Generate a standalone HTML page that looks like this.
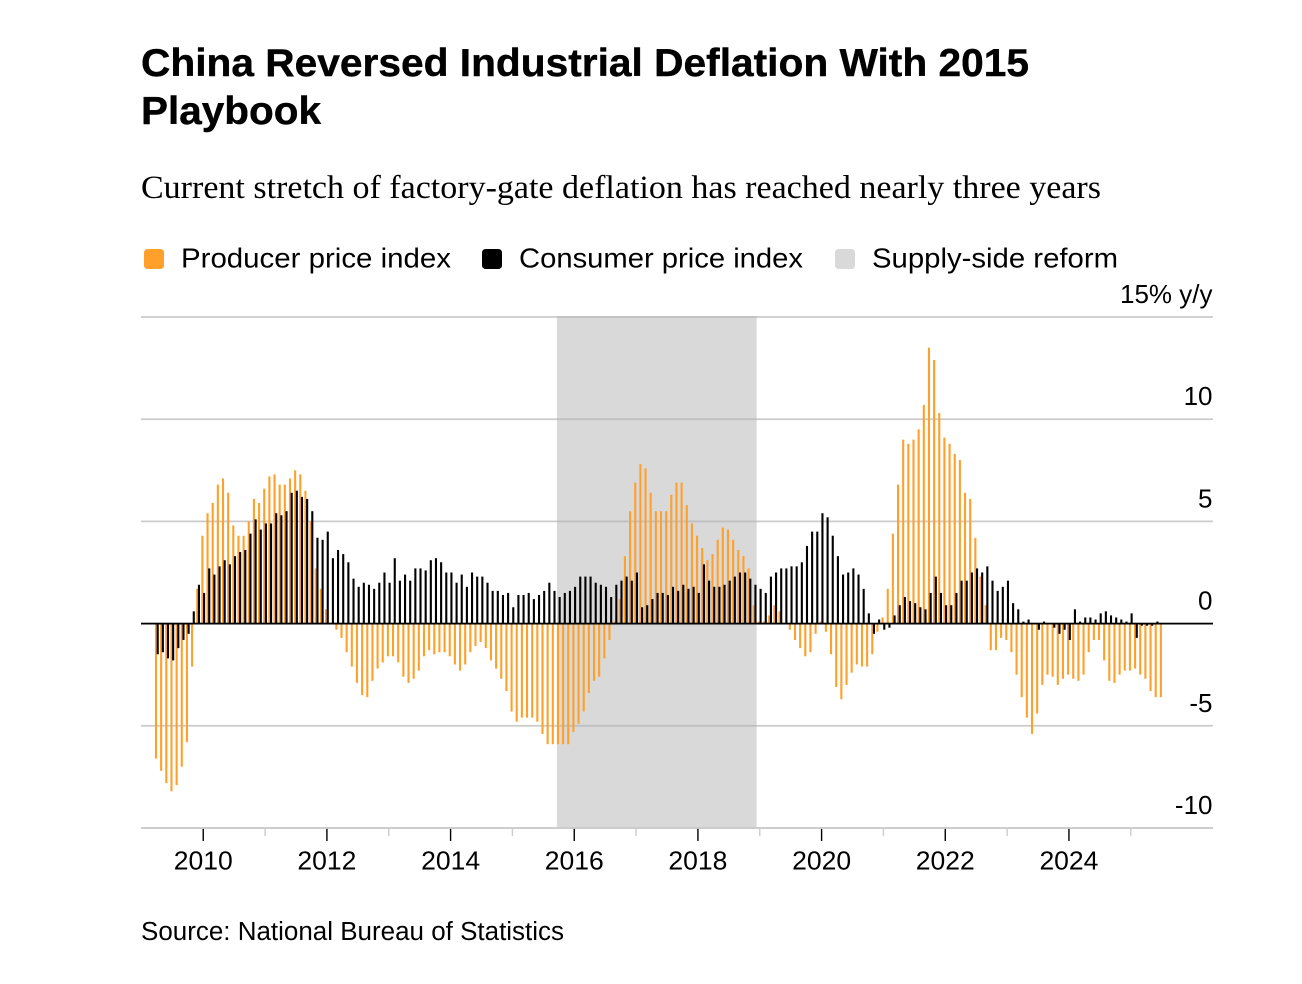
<!DOCTYPE html>
<html lang="en">
<head>
<meta charset="utf-8">
<title>China Reversed Industrial Deflation With 2015 Playbook</title>
<style>
html,body{margin:0;padding:0;background:#fff;width:1302px;height:984px;overflow:hidden}
svg{display:block}
text{font-family:"Liberation Sans",Arial,sans-serif;fill:#000}
.serif{font-family:"Liberation Serif","Times New Roman",serif}
</style>
</head>
<body>
<svg id="chart" xmlns="http://www.w3.org/2000/svg" width="1302" height="984" viewBox="0 0 1302 984">
  <text x="141" y="76" font-size="39" font-weight="700" textLength="888" lengthAdjust="spacingAndGlyphs" stroke="#000" stroke-width="0.4">China Reversed Industrial Deflation With 2015</text>
  <text x="141" y="124" font-size="39" font-weight="700" textLength="180" lengthAdjust="spacingAndGlyphs" stroke="#000" stroke-width="0.4">Playbook</text>
  <text class="serif" x="141" y="198" font-size="33" textLength="960" lengthAdjust="spacingAndGlyphs">Current stretch of factory-gate deflation has reached nearly three years</text>

  <g>
    <g>
      <rect x="144" y="249" width="20" height="20" rx="3.5" fill="#ffa02b"/>
      <text x="181" y="267.5" font-size="28" textLength="270" lengthAdjust="spacingAndGlyphs">Producer price index</text>
    </g>
    <g>
      <rect x="482" y="249" width="20" height="20" rx="3.5" fill="#000"/>
      <text x="519" y="267.5" font-size="28" textLength="284" lengthAdjust="spacingAndGlyphs">Consumer price index</text>
    </g>
    <g>
      <rect x="835" y="249" width="20" height="20" rx="3.5" fill="#d9d9d9"/>
      <text x="872" y="267.5" font-size="28" textLength="246" lengthAdjust="spacingAndGlyphs">Supply-side reform</text>
    </g>
  </g>

  <g id="band-layer"></g>
  <g id="grid-layer"></g>
  <g id="x-axis"></g>
  <g id="ppi-layer"></g>
  <g id="cpi-layer"></g>
  <g id="zero-layer"></g>
  <g id="y-labels"></g>

  <text x="141" y="940" font-size="25.5" textLength="423" lengthAdjust="spacingAndGlyphs">Source: National Bureau of Statistics</text>
</svg>
<script>
const firstMonth = [2009, 4];
const ppi = [
  -6.6,-7.2,-7.8,-8.2,-7.9,-7.0,-5.8,-2.1,1.7,
  4.3,5.4,5.9,6.8,7.1,6.4,4.8,4.3,4.3,5.0,6.1,5.9,
  6.6,7.2,7.3,6.8,6.8,7.1,7.5,7.3,6.5,5.0,2.7,1.7,
  0.7,0.0,-0.3,-0.7,-1.4,-2.1,-2.9,-3.5,-3.6,-2.8,-2.2,-1.9,
  -1.6,-1.6,-1.9,-2.6,-2.9,-2.7,-2.3,-1.6,-1.3,-1.5,-1.4,-1.4,
  -1.6,-2.0,-2.3,-2.0,-1.4,-1.1,-0.9,-1.2,-1.8,-2.2,-2.7,-3.3,
  -4.3,-4.8,-4.6,-4.6,-4.6,-4.8,-5.4,-5.9,-5.9,-5.9,-5.9,-5.9,
  -5.3,-4.9,-4.3,-3.4,-2.8,-2.6,-1.7,-0.8,0.1,1.2,3.3,5.5,
  6.9,7.8,7.6,6.4,5.5,5.5,5.5,6.3,6.9,6.9,5.8,4.9,
  4.3,3.7,3.1,3.4,4.1,4.7,4.6,4.1,3.6,3.3,2.7,0.9,
  0.1,0.1,0.4,0.9,0.6,0.0,-0.3,-0.8,-1.2,-1.6,-1.4,-0.5,
  0.1,-0.4,-1.5,-3.1,-3.7,-3.0,-2.4,-2.0,-2.1,-2.1,-1.5,-0.4,
  0.3,1.7,4.4,6.8,9.0,8.8,9.0,9.5,10.7,13.5,12.9,10.3,
  9.1,8.8,8.3,8.0,6.4,6.1,4.2,2.3,0.9,-1.3,-1.3,-0.7,
  -0.8,-1.4,-2.5,-3.6,-4.6,-5.4,-4.4,-3.0,-2.5,-2.6,-3.0,-2.7,
  -2.5,-2.7,-2.8,-2.5,-1.4,-0.8,-0.8,-1.8,-2.8,-2.9,-2.5,-2.3,
  -2.3,-2.2,-2.5,-2.7,-3.3,-3.6,-3.6
];
const cpi = [
  -1.5,-1.4,-1.7,-1.8,-1.2,-0.8,-0.5,0.6,1.9,
  1.5,2.7,2.4,2.8,3.1,2.9,3.3,3.5,3.6,4.4,5.1,4.6,
  4.9,4.9,5.4,5.3,5.5,6.4,6.5,6.2,6.1,5.5,4.2,4.1,
  4.5,3.2,3.6,3.4,3.0,2.2,1.8,2.0,1.9,1.7,2.0,2.5,
  2.0,3.2,2.1,2.4,2.1,2.7,2.7,2.6,3.1,3.2,3.0,2.5,
  2.5,2.0,2.4,1.8,2.5,2.3,2.3,2.0,1.6,1.6,1.4,1.5,
  0.8,1.4,1.4,1.5,1.2,1.4,1.6,2.0,1.6,1.3,1.5,1.6,
  1.8,2.3,2.3,2.3,2.0,1.9,1.8,1.3,1.9,2.1,2.3,2.1,
  2.5,0.8,0.9,1.2,1.5,1.5,1.4,1.8,1.6,1.9,1.7,1.8,
  1.5,2.9,2.1,1.8,1.8,1.9,2.1,2.3,2.5,2.5,2.2,1.9,
  1.7,1.5,2.3,2.5,2.7,2.7,2.8,2.8,3.0,3.8,4.5,4.5,
  5.4,5.2,4.3,3.3,2.4,2.5,2.7,2.4,1.7,0.5,-0.5,0.2,
  -0.3,-0.2,0.4,0.9,1.3,1.1,1.0,0.8,0.7,1.5,2.3,1.5,
  0.9,0.9,1.5,2.1,2.1,2.5,2.7,2.5,2.8,2.1,1.6,1.8,
  2.1,1.0,0.7,0.1,0.2,0.0,-0.3,0.1,0.0,-0.2,-0.5,-0.3,
  -0.8,0.7,0.1,0.3,0.3,0.2,0.5,0.6,0.4,0.3,0.2,0.1,
  0.5,-0.7,-0.1,-0.1,-0.1,0.1,0.0
];
const yTicks = [15, 10, 5, 0, -5, -10];
const yTickLabels = ['15% y/y', '10', '5', '0', '-5', '-10'];
const xTickYears = [2010,2011,2012,2013,2014,2015,2016,2017,2018,2019,2020,2021,2022,2023,2024,2025];
const xLabelYears = [2010,2012,2014,2016,2018,2020,2022,2024];
const reformBand = [2015.72, 2018.95];

const SVG_NS = 'http://www.w3.org/2000/svg';
const PLOT_LEFT = 141, PLOT_RIGHT = 1213;
const PLOT_TOP = 317, PLOT_BOTTOM = 828;

// Axis functions
function xScale(monthsSince2009) { return 141.4 + monthsSince2009 * 5.153; }
function yScale(v) { return PLOT_BOTTOM - (v + 10) * (PLOT_BOTTOM - PLOT_TOP) / 25; }
function monthIndexAt(i) { return (firstMonth[0] - 2009) * 12 + (firstMonth[1] - 1) + i; }

function make(tag, attrs, parent) {
  const el = document.createElementNS(SVG_NS, tag);
  for (const k in attrs) el.setAttribute(k, attrs[k]);
  parent.appendChild(el);
  return el;
}

const GRID_H = 1.8;
const gridLayer = document.getElementById('grid-layer');
yTicks.forEach(function (t) {
  if (t === 0) return;
  const line = make('rect', { x: PLOT_LEFT, y: yScale(t) - GRID_H / 2, width: PLOT_RIGHT - PLOT_LEFT, height: GRID_H, fill: '#cccccc' }, gridLayer);
  
  
});

const bandLayer = document.getElementById('band-layer');
const bandX0 = xScale((reformBand[0] - 2009) * 12);
const bandX1 = xScale((reformBand[1] - 2009) * 12);
const band = make('rect', { x: bandX0, y: PLOT_TOP, width: bandX1 - bandX0, height: PLOT_BOTTOM - PLOT_TOP, fill: '#d9d9d9' }, bandLayer);



// Re-tint gridlines inside the band
yTicks.forEach(function (t) {
  if (t === 0) return;
  const seg = make('rect', { x: bandX0, y: yScale(t) - GRID_H / 2, width: bandX1 - bandX0, height: GRID_H, fill: '#c0c0c0' }, gridLayer);
  
  
});

const BAR_W = 2.1, BAR_OFFSET = 0.85;
function drawBars(values, layerId, color, offset, name) {
  const layer = document.getElementById(layerId);
  values.forEach(function (v, i) {
    const cx = xScale(monthIndexAt(i)) + offset;
    const y0 = yScale(0), y1 = yScale(v);
    const r = make('rect', { x: cx - BAR_W / 2, y: Math.min(y0, y1), width: BAR_W, height: Math.abs(y1 - y0), fill: color }, layer);
    
    
  });
}
drawBars(ppi, 'ppi-layer', '#ffa02b', -BAR_OFFSET, 'ppi');
drawBars(cpi, 'cpi-layer', '#000000', BAR_OFFSET, 'cpi');

const zeroLayer = document.getElementById('zero-layer');
const zero = make('rect', { x: PLOT_LEFT, y: yScale(0) - GRID_H / 2, width: PLOT_RIGHT - PLOT_LEFT, height: GRID_H, fill: '#000' }, zeroLayer);



const yLabels = document.getElementById('y-labels');
yTicks.forEach(function (t, i) {
  const label = make('text', { x: PLOT_RIGHT - 0.5, y: yScale(t) - 14, 'text-anchor': 'end', 'font-size': 26 }, yLabels);
  label.textContent = yTickLabels[i];
  
  
});

const xAxis = document.getElementById('x-axis');
xTickYears.forEach(function (yr) {
  const major = xLabelYears.indexOf(yr) >= 0;
  const x = xScale((yr - 2009) * 12);
  const tick = make('rect', { x: x - 0.7, y: PLOT_BOTTOM, width: 1.4, height: major ? 13 : 8, fill: major ? '#000' : '#cccccc' }, xAxis);
  
  
});
xLabelYears.forEach(function (yr) {
  const label = make('text', { x: xScale((yr - 2009) * 12), y: 869.5, 'text-anchor': 'middle', 'font-size': 26, textLength: 59, lengthAdjust: 'spacingAndGlyphs' }, xAxis);
  label.textContent = String(yr);
  
  
});
const baseline = make('rect', { x: PLOT_LEFT, y: PLOT_BOTTOM - GRID_H / 2, width: PLOT_RIGHT - PLOT_LEFT, height: GRID_H, fill: '#cccccc' }, xAxis);


</script>
</body>
</html>
